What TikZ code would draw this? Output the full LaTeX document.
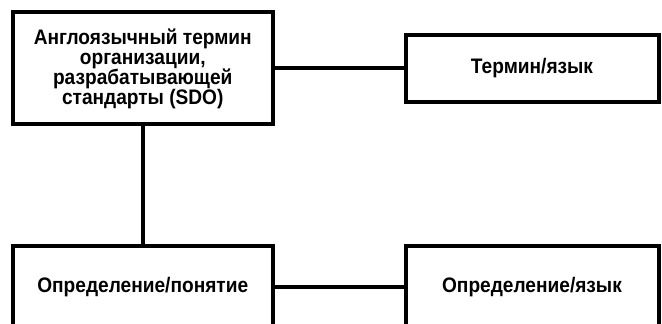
\documentclass[tikz,border=0pt]{standalone}
\usepackage{fontspec}
\setmainfont{Liberation Sans}[FakeStretch=0.91]

\begin{document}
\begin{tikzpicture}[x=1pt,y=1pt,
        box/.style={draw, line width=4pt, align=center, inner sep=0pt,
            font=\fontsize{21}{20}\selectfont\bfseries},
        link/.style={line width=4pt}]
    % the page
    \clip (0,0) rectangle (662,324);

    % top row
    \node[box, minimum width=259.5pt, minimum height=112pt] (sdoterm) at (142.75,255.5)
        {Англоязычный термин\\организации,\\разрабатывающей\\стандарты (SDO)};
    \node[box, minimum width=253pt, minimum height=66.5pt] (termlang) at (532,255.5)
        {Термин/язык};

    % bottom row, cut by the page edge
    \node[box, minimum width=259.5pt, minimum height=82pt] (defconcept) at (142.75,37)
        {Определение/понятие};
    \node[box, minimum width=253pt, minimum height=82pt] (deflang) at (532,37)
        {Определение/язык};

    % links
    \draw[link] (sdoterm) -- (termlang);
    \draw[link] (sdoterm) -- (defconcept);
    \draw[link] (defconcept) -- (deflang);
\end{tikzpicture}
\end{document}
